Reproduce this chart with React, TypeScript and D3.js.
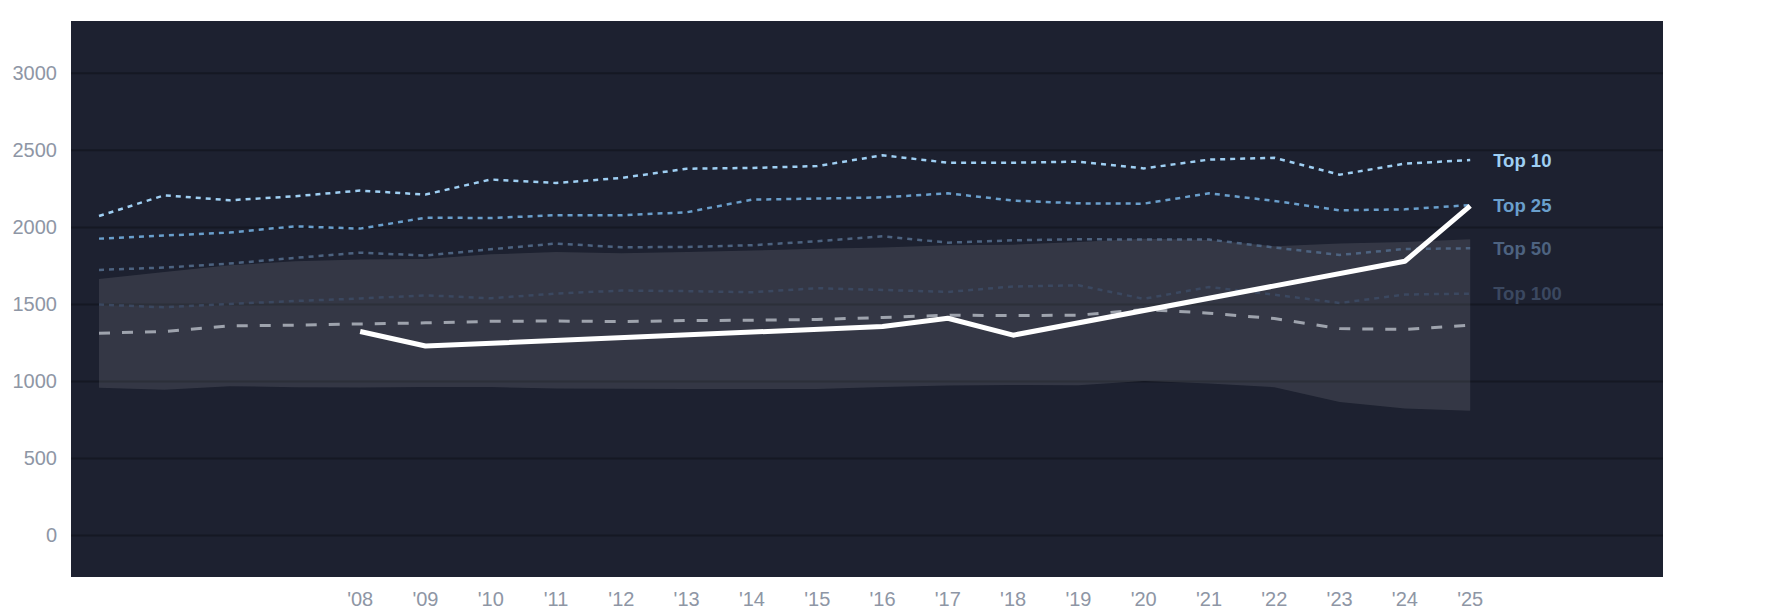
import React from "react";
import * as d3 from "d3";

const years = [2004, 2005, 2006, 2007, 2008, 2009, 2010, 2011, 2012, 2013, 2014, 2015, 2016, 2017, 2018, 2019, 2020, 2021, 2022, 2023, 2024, 2025];
const top10 = [2074, 2208, 2176, 2202, 2239, 2213, 2311, 2288, 2321, 2381, 2386, 2398, 2468, 2420, 2420, 2427, 2383, 2440, 2452, 2342, 2414, 2437];
const top25 = [1927, 1947, 1966, 2007, 1992, 2063, 2061, 2079, 2079, 2098, 2180, 2187, 2195, 2221, 2174, 2156, 2154, 2221, 2172, 2111, 2117, 2145];
const top50 = [1724, 1739, 1765, 1802, 1836, 1817, 1858, 1895, 1871, 1873, 1884, 1910, 1942, 1901, 1916, 1923, 1921, 1921, 1869, 1821, 1860, 1864];
const top100 = [1499, 1481, 1503, 1522, 1538, 1559, 1540, 1570, 1590, 1586, 1579, 1605, 1594, 1581, 1616, 1624, 1536, 1613, 1563, 1509, 1564, 1570];
const median = [1313, 1324, 1360, 1365, 1373, 1380, 1390, 1392, 1388, 1395, 1397, 1402, 1415, 1430, 1427, 1430, 1467, 1443, 1408, 1343, 1337, 1365];
const bandHigh = [1665, 1711, 1754, 1780, 1791, 1795, 1825, 1840, 1832, 1840, 1850, 1862, 1870, 1884, 1888, 1905, 1927, 1918, 1878, 1895, 1905, 1923];
const bandLow = [958, 945, 969, 962, 960, 963, 963, 954, 952, 950, 950, 950, 963, 973, 977, 975, 1003, 986, 962, 867, 824, 809];
const focusYears = [2008, 2009, 2016, 2017, 2018, 2024, 2025];
const focusValues = [1324, 1230, 1356, 1410, 1300, 1780, 2140];
const xTickYears = [2008, 2009, 2010, 2011, 2012, 2013, 2014, 2015, 2016, 2017, 2018, 2019, 2020, 2021, 2022, 2023, 2024, 2025];
const yTicks = [0, 500, 1000, 1500, 2000, 2500, 3000];

const tiers = [
  { name: "Top 10", values: top10, color: "#9fcff3" },
  { name: "Top 25", values: top25, color: "#6a9fcc" },
  { name: "Top 50", values: top50, color: "#4d6380" },
  { name: "Top 100", values: top100, color: "#3b4860" },
];

const W = 1785;
const H = 614;
const plot = { left: 71, top: 21, right: 1663, bottom: 577 };

export default function App() {
  const x = d3.scaleLinear().domain([2004, 2025]).range([99, 1470.2]);
  const y = d3.scaleLinear().domain([-270, 3340]).range([plot.bottom, plot.top]);

  const line = d3
    .line<[number, number]>()
    .x((d) => x(d[0]))
    .y((d) => y(d[1]));

  const area = d3
    .area<number>()
    .x((_, i) => x(years[i]))
    .y0((_, i) => y(bandLow[i]))
    .y1((_, i) => y(bandHigh[i]));

  const pts = (vals: number[]) => years.map((yr, i) => [yr, vals[i]] as [number, number]);
  const font = "'Liberation Sans', Arial, Helvetica, sans-serif";

  return (
    <div style={{ position: "absolute", left: 0, top: 0 }}>
      <svg width={W} height={H} style={{ display: "block" }}>
        <rect x={0} y={0} width={W} height={H} fill="#ffffff" />
        <rect
          x={plot.left}
          y={plot.top}
          width={plot.right - plot.left}
          height={plot.bottom - plot.top}
          fill="#1d2130"
        />
        {yTicks.map((t) => (
          <line
            key={"g" + t}
            x1={plot.left}
            x2={plot.right}
            y1={y(t)}
            y2={y(t)}
            stroke="#151823"
            strokeWidth={2}
          />
        ))}
        <path d={area(years) || ""} fill="rgba(255,255,255,0.1)" />
        {tiers
          .slice()
          .reverse()
          .map((t) => (
            <path
              key={t.name}
              d={line(pts(t.values)) || ""}
              fill="none"
              stroke={t.color}
              strokeWidth={2.5}
              strokeDasharray="5,5"
            />
          ))}
        <path
          d={line(pts(median)) || ""}
          fill="none"
          stroke="#9ea3ad"
          strokeWidth={3}
          strokeDasharray="11,12"
        />
        <path
          d={line(focusYears.map((yr, i) => [yr, focusValues[i]] as [number, number])) || ""}
          fill="none"
          stroke="#ffffff"
          strokeWidth={5}
          strokeLinejoin="round"
        />
        {tiers.map((t) => (
          <text
            key={"l" + t.name}
            x={x(2025) + 23}
            y={y(t.values[t.values.length - 1])}
            dy="0.35em"
            fill={t.color}
            fontFamily={font}
            fontWeight="bold"
            fontSize={18.5}
          >
            {t.name}
          </text>
        ))}
        {yTicks.map((t) => (
          <text
            key={"yl" + t}
            x={57}
            y={y(t)}
            dy="0.35em"
            textAnchor="end"
            fill="#8e96a5"
            fontFamily={font}
            fontSize={20}
          >
            {t}
          </text>
        ))}
        {xTickYears.map((yr) => (
          <text
            key={"xl" + yr}
            x={x(yr)}
            y={605.5}
            textAnchor="middle"
            fill="#8e96a5"
            fontFamily={font}
            fontSize={20}
          >
            {"'" + String(yr).slice(2)}
          </text>
        ))}
      </svg>
    </div>
  );
}
